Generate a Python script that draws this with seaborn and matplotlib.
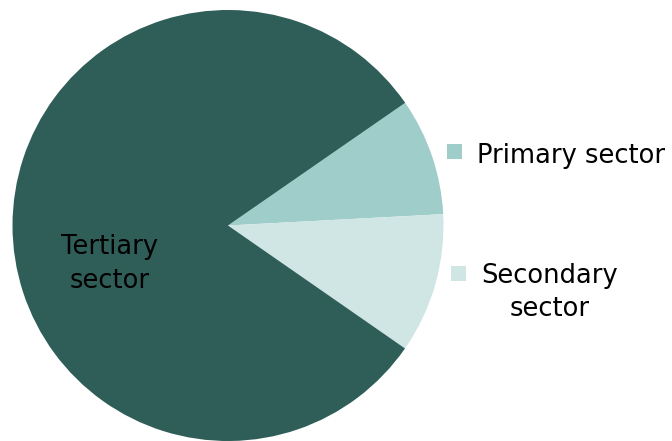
import matplotlib
matplotlib.use("Agg")
import matplotlib.pyplot as plt
from matplotlib.patches import Rectangle
import seaborn as sns

sectors = ["Primary sector", "Secondary sector", "Tertiary sector"]
shares = [8.8, 10.5, 80.7]
colors = ["#9FCDC9", "#CFE6E5", "#2F5E59"]

sns.set_style("white")
plt.rcParams['font.family'] = ['DejaVu Sans']

W, H = 672, 441
fig = plt.figure(figsize=(W / 100, H / 100), dpi=100)
cx, cy, r = 228, 225.5, 215.5
ax = fig.add_axes([(cx - r) / W, (H - cy - r) / H, 2 * r / W, 2 * r / H])
ax.pie(shares, colors=colors, startangle=34.7, counterclock=False,
       radius=1, wedgeprops=dict(linewidth=0))
ax.set_xlim(-1, 1)
ax.set_ylim(-1, 1)
ax.set_axis_off()

def px(x, y):
    return x / W, 1 - y / H

tc = "#000000"
fs = 18.5
ls = 1.38
fig.text(*px(110, 264), "Tertiary\nsector", ha="center", va="center",
         fontsize=fs, color=tc, linespacing=ls)

# legend-like markers
fig.patches.append(Rectangle(px(447, 159), 15 / W, 15 / H, transform=fig.transFigure,
                             facecolor=colors[0], edgecolor="none"))
fig.text(*px(477, 156), sectors[0], ha="left", va="center", fontsize=fs, color=tc)
fig.patches.append(Rectangle(px(451, 281), 15 / W, 15 / H, transform=fig.transFigure,
                             facecolor=colors[1], edgecolor="none"))
fig.text(*px(550, 292.5), "Secondary\nsector", ha="center", va="center",
         fontsize=fs, color=tc, linespacing=ls)

fig.savefig("out.png", dpi=100)
